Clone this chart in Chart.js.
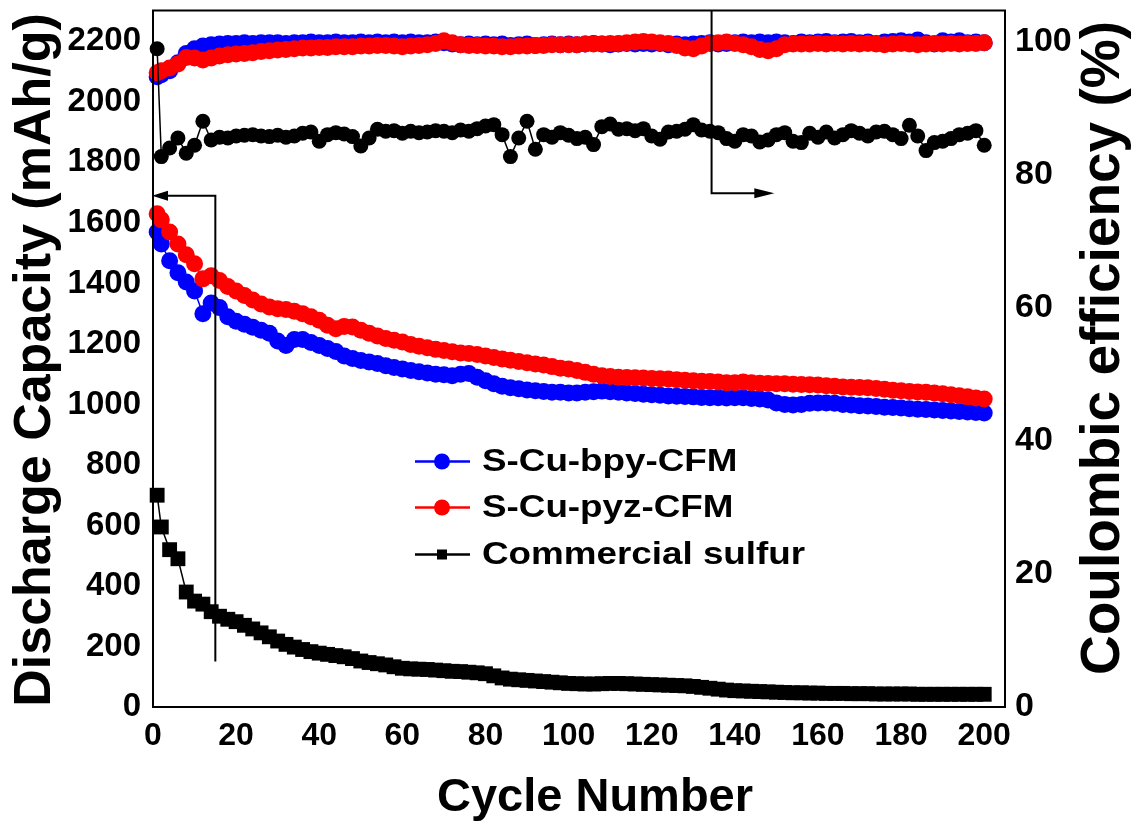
<!DOCTYPE html>
<html>
<head>
<meta charset="utf-8">
<script src="https://cdn.jsdelivr.net/npm/chart.js@4.4.1/dist/chart.umd.min.js"></script>
<style>
  html, body { margin: 0; padding: 0; background: #fff; }
  canvas { display: block; }
</style>
</head>
<body>
<canvas id="cycleChart" width="1131" height="822"></canvas>
<script>
// cycle numbers (every other cycle after the first)
const cycles = [1,
  2, 4, 6, 8, 10, 12, 14, 16, 18, 20, 22, 24, 26, 28, 30, 32, 34, 36, 38, 40,
  42, 44, 46, 48, 50, 52, 54, 56, 58, 60, 62, 64, 66, 68, 70, 72, 74, 76, 78, 80,
  82, 84, 86, 88, 90, 92, 94, 96, 98, 100, 102, 104, 106, 108, 110, 112, 114, 116, 118, 120,
  122, 124, 126, 128, 130, 132, 134, 136, 138, 140, 142, 144, 146, 148, 150, 152, 154, 156, 158, 160,
  162, 164, 166, 168, 170, 172, 174, 176, 178, 180, 182, 184, 186, 188, 190, 192, 194, 196, 198, 200];

// discharge capacity, mAh/g
const capBpy = [1570, 1530, 1475, 1435, 1405, 1375, 1300, 1335, 1320, 1290,
  1275, 1265, 1255, 1245, 1235, 1210, 1195, 1215, 1215, 1205,
  1195, 1185, 1175, 1160, 1152, 1145, 1140, 1135, 1128, 1122,
  1117, 1112, 1108, 1104, 1100, 1098, 1095, 1100, 1102, 1090,
  1078, 1068, 1060, 1055, 1052, 1048, 1045, 1043, 1040, 1040,
  1038, 1038, 1040, 1042, 1044, 1042, 1040, 1038, 1036, 1034,
  1032, 1030, 1028, 1027, 1026, 1025, 1023, 1022, 1022, 1021,
  1022, 1022, 1020, 1018, 1015, 1005, 1000, 998, 1000, 1004,
  1005, 1005, 1004, 1000, 998, 996, 995, 993, 991, 990,
  988, 986, 984, 983, 982, 980, 978, 977, 975, 973,
  972];
const capPyz = [1630, 1610, 1570, 1530, 1495, 1465, 1415, 1425, 1410, 1390,
  1375, 1360, 1345, 1332, 1322, 1316, 1314, 1308, 1300, 1290,
  1278, 1262, 1250, 1258, 1256, 1245, 1235, 1226, 1218, 1212,
  1206, 1198, 1192, 1187, 1182, 1178, 1174, 1170, 1168, 1165,
  1160, 1155, 1150, 1146, 1142, 1138, 1134, 1130, 1125, 1120,
  1117, 1112, 1106, 1100, 1095, 1092, 1090, 1089, 1088, 1087,
  1086, 1085, 1084, 1082, 1080, 1078, 1077, 1076, 1074, 1072,
  1072, 1074, 1072, 1070, 1069, 1068, 1068, 1067, 1066, 1065,
  1064, 1062, 1060, 1058, 1057, 1056, 1055, 1053, 1050, 1047,
  1045, 1043, 1041, 1040, 1038, 1035, 1032, 1029, 1025, 1021,
  1018];
const capSulfur = [700, 595, 520, 490, 380, 350, 340, 315, 300, 290,
  282, 270, 258, 245, 232, 218, 207, 198, 190, 183,
  178, 174, 170, 166, 160, 152, 147, 143, 139, 133,
  128, 126, 125, 124, 122, 120, 118, 117, 115, 113,
  110, 103, 96, 92, 90, 88, 86, 84, 82, 80,
  78, 77, 76, 76, 77, 78, 78, 77, 76, 75,
  74, 73, 72, 71, 70, 68, 65, 62, 59, 56,
  54, 53, 52, 51, 50, 49, 48, 47, 47, 46,
  46, 45, 45, 45, 44, 44, 44, 43, 43, 43,
  43, 43, 42, 42, 42, 42, 42, 42, 42, 42,
  42];

// coulombic efficiency, %
const ceBpy = [94.7, 95.0, 95.6, 96.8, 98.2, 98.9, 99.3, 99.5, 99.6, 99.7,
  99.7, 99.8, 99.7, 99.8, 99.8, 99.8, 99.7, 99.8, 99.8, 99.9,
  99.8, 99.8, 99.9, 99.8, 99.8, 99.9, 99.8, 99.9, 99.8, 99.9,
  99.8, 99.9, 99.8, 99.8, 99.9, 99.8, 99.6, 99.5, 99.6, 99.5,
  99.6, 99.5, 99.6, 99.4, 99.5, 99.6, 99.4, 99.5, 99.6, 99.5,
  99.6, 99.5, 99.6, 99.7, 99.6, 99.5, 99.6, 99.7, 99.6, 99.7,
  99.6, 99.7, 99.5, 99.6, 99.5, 99.6, 99.7, 99.8, 99.6, 99.7,
  99.8, 99.9, 99.8, 99.9, 99.8, 99.9, 99.8, 99.7, 99.9, 99.8,
  99.9, 100.0, 99.8, 99.9, 100.0, 99.8, 99.9, 99.7, 99.9, 100.0,
  100.1, 99.9, 100.2, 99.8, 99.6, 100.1, 99.9, 100.1, 99.8, 99.9,
  99.8];
const cePyz = [95.3, 95.6, 96.0, 96.6, 97.6, 97.5, 97.2, 97.5, 97.8, 98.0,
  98.1, 98.2, 98.3, 98.5, 98.6, 98.7, 98.8, 98.9, 99.0, 99.0,
  99.1, 99.1, 99.2, 99.2, 99.2, 99.3, 99.3, 99.4, 99.4, 99.3,
  99.2, 99.3, 99.4, 99.5, 99.7, 100.1, 99.8, 99.5, 99.4, 99.4,
  99.3, 99.3, 99.2, 99.2, 99.3, 99.3, 99.4, 99.4, 99.5, 99.5,
  99.5, 99.5, 99.6, 99.6, 99.6, 99.7, 99.7, 99.8, 99.9, 100.0,
  99.9, 99.8, 99.7, 99.4, 99.0, 98.9, 99.3, 99.7, 99.8, 99.9,
  99.7, 99.5, 99.2, 98.8, 98.6, 98.9, 99.5, 99.6, 99.6, 99.6,
  99.7, 99.6, 99.7, 99.6, 99.7, 99.6, 99.7, 99.6, 99.5, 99.6,
  99.7, 99.6, 99.5, 99.6, 99.7, 99.6, 99.7, 99.6, 99.7, 99.7,
  99.8];
const ceSulfur = [98.9, 82.7, 84.0, 85.5, 83.2, 84.4, 88.0, 85.2, 85.6, 85.5,
  85.8, 85.9, 86.0, 85.8, 85.7, 85.9, 85.6, 85.8, 86.2, 86.4,
  85.0, 86.0, 86.3, 86.1, 85.7, 84.3, 85.5, 86.8, 86.5, 86.6,
  86.2, 86.5, 86.3, 86.4, 86.6, 86.5, 86.3, 86.7, 86.5, 86.9,
  87.3, 87.5, 86.0, 82.7, 85.5, 88.0, 83.8, 86.0, 85.6, 86.3,
  85.9, 85.4, 85.6, 84.5, 87.2, 87.6, 86.8, 86.9, 86.6, 86.9,
  85.8, 85.3, 86.4, 86.5, 86.8, 87.5, 86.7, 86.5, 86.3, 85.4,
  85.0, 86.0, 85.8, 84.9, 85.2, 86.0, 86.3, 85.0, 84.8, 86.2,
  85.6, 86.4, 85.5, 86.0, 86.6, 86.2, 85.8, 86.4, 86.5, 86.0,
  85.4, 87.4, 85.8, 83.6, 84.8, 85.0, 85.4, 86.0, 86.2, 86.6,
  84.4];

const xTicks = [0, 20, 40, 60, 80, 100, 120, 140, 160, 180, 200];
const capTicks = [0, 200, 400, 600, 800, 1000, 1200, 1400, 1600, 1800, 2000, 2200];
const ceTicks = [0, 20, 40, 60, 80, 100];

const xTitle = 'Cycle Number';
const capTitle = 'Discharge Capacity (mAh/g)';
const ceTitle = 'Coulombic efficiency (%)';

const FONT = '"Liberation Sans", Arial, Helvetica, sans-serif';

const toPoints = (ys) => cycles.map((c, i) => ({ x: c, y: ys[i] }));

// arrows telling which axis each group of curves belongs to (data units)
const capArrow = { x: 15, yFrom: 150, yTo: 1690 };
const ceArrow = { x: 134.4, yTo: 77.2, xTip: 149.5 };

function arrowHead(ctx, x, y, dir, len, half) {
  ctx.beginPath();
  ctx.moveTo(x, y);
  ctx.lineTo(x - dir * len, y - half);
  ctx.lineTo(x - dir * len, y + half);
  ctx.closePath();
  ctx.fill();
}

const frameAndArrows = {
  id: 'frameAndArrows',
  afterDatasetsDraw(chart) {
    const { ctx, chartArea: a, scales } = chart;
    const x = scales.x, yc = scales.yCap, ye = scales.yCe;
    ctx.save();
    ctx.strokeStyle = '#000';
    ctx.fillStyle = '#000';
    ctx.lineWidth = 2;
    ctx.strokeRect(a.left, a.top, a.right - a.left, a.bottom - a.top);

    // left arrow -> capacity axis
    const lx = x.getPixelForValue(capArrow.x);
    const ly = yc.getPixelForValue(capArrow.yTo);
    ctx.beginPath();
    ctx.moveTo(lx, yc.getPixelForValue(capArrow.yFrom));
    ctx.lineTo(lx, ly);
    ctx.lineTo(a.left + 12, ly);
    ctx.stroke();
    arrowHead(ctx, a.left - 1, ly, -1, 16, 5);

    // right arrow -> efficiency axis
    const rx = x.getPixelForValue(ceArrow.x);
    const ry = ye.getPixelForValue(ceArrow.yTo);
    const tip = x.getPixelForValue(ceArrow.xTip);
    ctx.beginPath();
    ctx.moveTo(rx, a.top);
    ctx.lineTo(rx, ry);
    ctx.lineTo(tip - 12, ry);
    ctx.stroke();
    arrowHead(ctx, tip, ry, 1, 20, 5);
    ctx.restore();
  }
};

// axis titles; both vertical titles read bottom to top
const axisTitles = {
  id: 'axisTitles',
  afterDraw(chart) {
    const { ctx, chartArea: a } = chart;
    ctx.save();
    ctx.fillStyle = '#000';
    ctx.textAlign = 'center';
    ctx.textBaseline = 'alphabetic';

    ctx.font = 'bold 47px ' + FONT;
    ctx.fillText(xTitle, a.left + 442, 811);

    ctx.font = 'bold 52px ' + FONT;
    ctx.save();
    ctx.translate(50, 360);
    ctx.rotate(-Math.PI / 2);
    ctx.fillText(capTitle, 0, 0);
    ctx.restore();

    ctx.font = 'bold 55px ' + FONT;
    ctx.save();
    ctx.translate(1119, 348);
    ctx.rotate(-Math.PI / 2);
    ctx.fillText(ceTitle, 0, 0);
    ctx.restore();
    ctx.restore();
  }
};

// legend in the middle of the plot: line - marker - line, then the name
const innerLegend = {
  id: 'innerLegend',
  afterDraw(chart) {
    const { ctx, chartArea: a } = chart;
    const left = a.left + 262;
    const rows = [451, 497, 544];
    ctx.save();
    ctx.font = 'bold 32px ' + FONT;
    ctx.textBaseline = 'middle';
    chart.data.datasets.slice(0, 3).forEach((ds, i) => {
      const y = a.top + rows[i];
      ctx.strokeStyle = ds.borderColor;
      ctx.fillStyle = ds.backgroundColor;
      ctx.lineWidth = 2.5;
      ctx.beginPath();
      ctx.moveTo(left, y);
      ctx.lineTo(left + 55, y);
      ctx.stroke();
      if (ds.pointStyle === 'rect') {
        ctx.fillRect(left + 22, y - 5, 10, 10);
      } else {
        ctx.beginPath();
        ctx.arc(left + 27, y, 8, 0, Math.PI * 2);
        ctx.fill();
      }
      // names are set a little wide
      ctx.fillStyle = '#000';
      ctx.save();
      ctx.translate(left + 67, y + 1);
      ctx.scale(1.15, 1);
      ctx.fillText(ds.label, 0, 0);
      ctx.restore();
    });
    ctx.restore();
  }
};

const tickFont = (size) => ({ family: FONT, size, weight: 'bold' });

const series = (label, data, color, axis, style, radius, order) => ({
  label,
  data: toPoints(data),
  yAxisID: axis,
  borderColor: color,
  backgroundColor: color,
  pointBackgroundColor: color,
  pointBorderColor: color,
  pointBorderWidth: 0,
  pointStyle: style,
  pointRadius: radius,
  borderWidth: 1.5,
  clip: false,
  order
});

const noEdgePadding = (s) => {
  s.paddingTop = 0;
  s.paddingBottom = 0;
  s.paddingLeft = 0;
  s.paddingRight = 0;
};

new Chart(document.getElementById('cycleChart'), {
  type: 'line',
  data: {
    datasets: [
      series('S-Cu-bpy-CFM', capBpy, '#0000ff', 'yCap', 'circle', 8.5, 4),
      series('S-Cu-pyz-CFM', capPyz, '#ff0000', 'yCap', 'circle', 8.5, 3),
      series('Commercial sulfur', capSulfur, '#000000', 'yCap', 'rect', 10.5, 1),
      series('S-Cu-bpy-CFM CE', ceBpy, '#0000ff', 'yCe', 'circle', 8.5, 4),
      series('S-Cu-pyz-CFM CE', cePyz, '#ff0000', 'yCe', 'circle', 8.5, 3),
      series('Commercial sulfur CE', ceSulfur, '#000000', 'yCe', 'circle', 7.5, 1)
    ]
  },
  options: {
    responsive: false,
    animation: false,
    layout: { padding: { top: 9, left: 0, right: 0, bottom: 0 } },
    plugins: {
      legend: { display: false },
      tooltip: { enabled: false }
    },
    scales: {
      x: {
        type: 'linear',
        min: 0,
        max: 205,
        afterBuildTicks: (s) => { s.ticks = xTicks.map((v) => ({ value: v })); },
        afterFit: (s) => { s.height = 115; noEdgePadding(s); },
        grid: { display: false, drawTicks: false },
        border: { display: true, color: '#000', width: 2 },
        ticks: { color: '#000', font: tickFont(32), padding: 10, maxRotation: 0, autoSkip: false, callback: (v) => String(v) }
      },
      yCap: {
        type: 'linear',
        position: 'left',
        min: 0,
        max: 2302,
        afterBuildTicks: (s) => { s.ticks = capTicks.map((v) => ({ value: v })); },
        afterFit: (s) => { s.width = 153; noEdgePadding(s); },
        grid: { display: false, drawTicks: false },
        border: { display: true, color: '#000', width: 2 },
        ticks: { color: '#000', font: tickFont(33), padding: 12, autoSkip: false, callback: (v) => String(v) }
      },
      yCe: {
        type: 'linear',
        position: 'right',
        min: 0,
        max: 104.65,
        afterBuildTicks: (s) => { s.ticks = ceTicks.map((v) => ({ value: v })); },
        afterFit: (s) => { s.width = 126; noEdgePadding(s); },
        grid: { display: false, drawTicks: false },
        border: { display: true, color: '#000', width: 2 },
        ticks: { color: '#000', font: tickFont(34), padding: 10, autoSkip: false, callback: (v) => String(v) }
      }
    }
  },
  plugins: [frameAndArrows, axisTitles, innerLegend]
});
</script>
</body>
</html>
